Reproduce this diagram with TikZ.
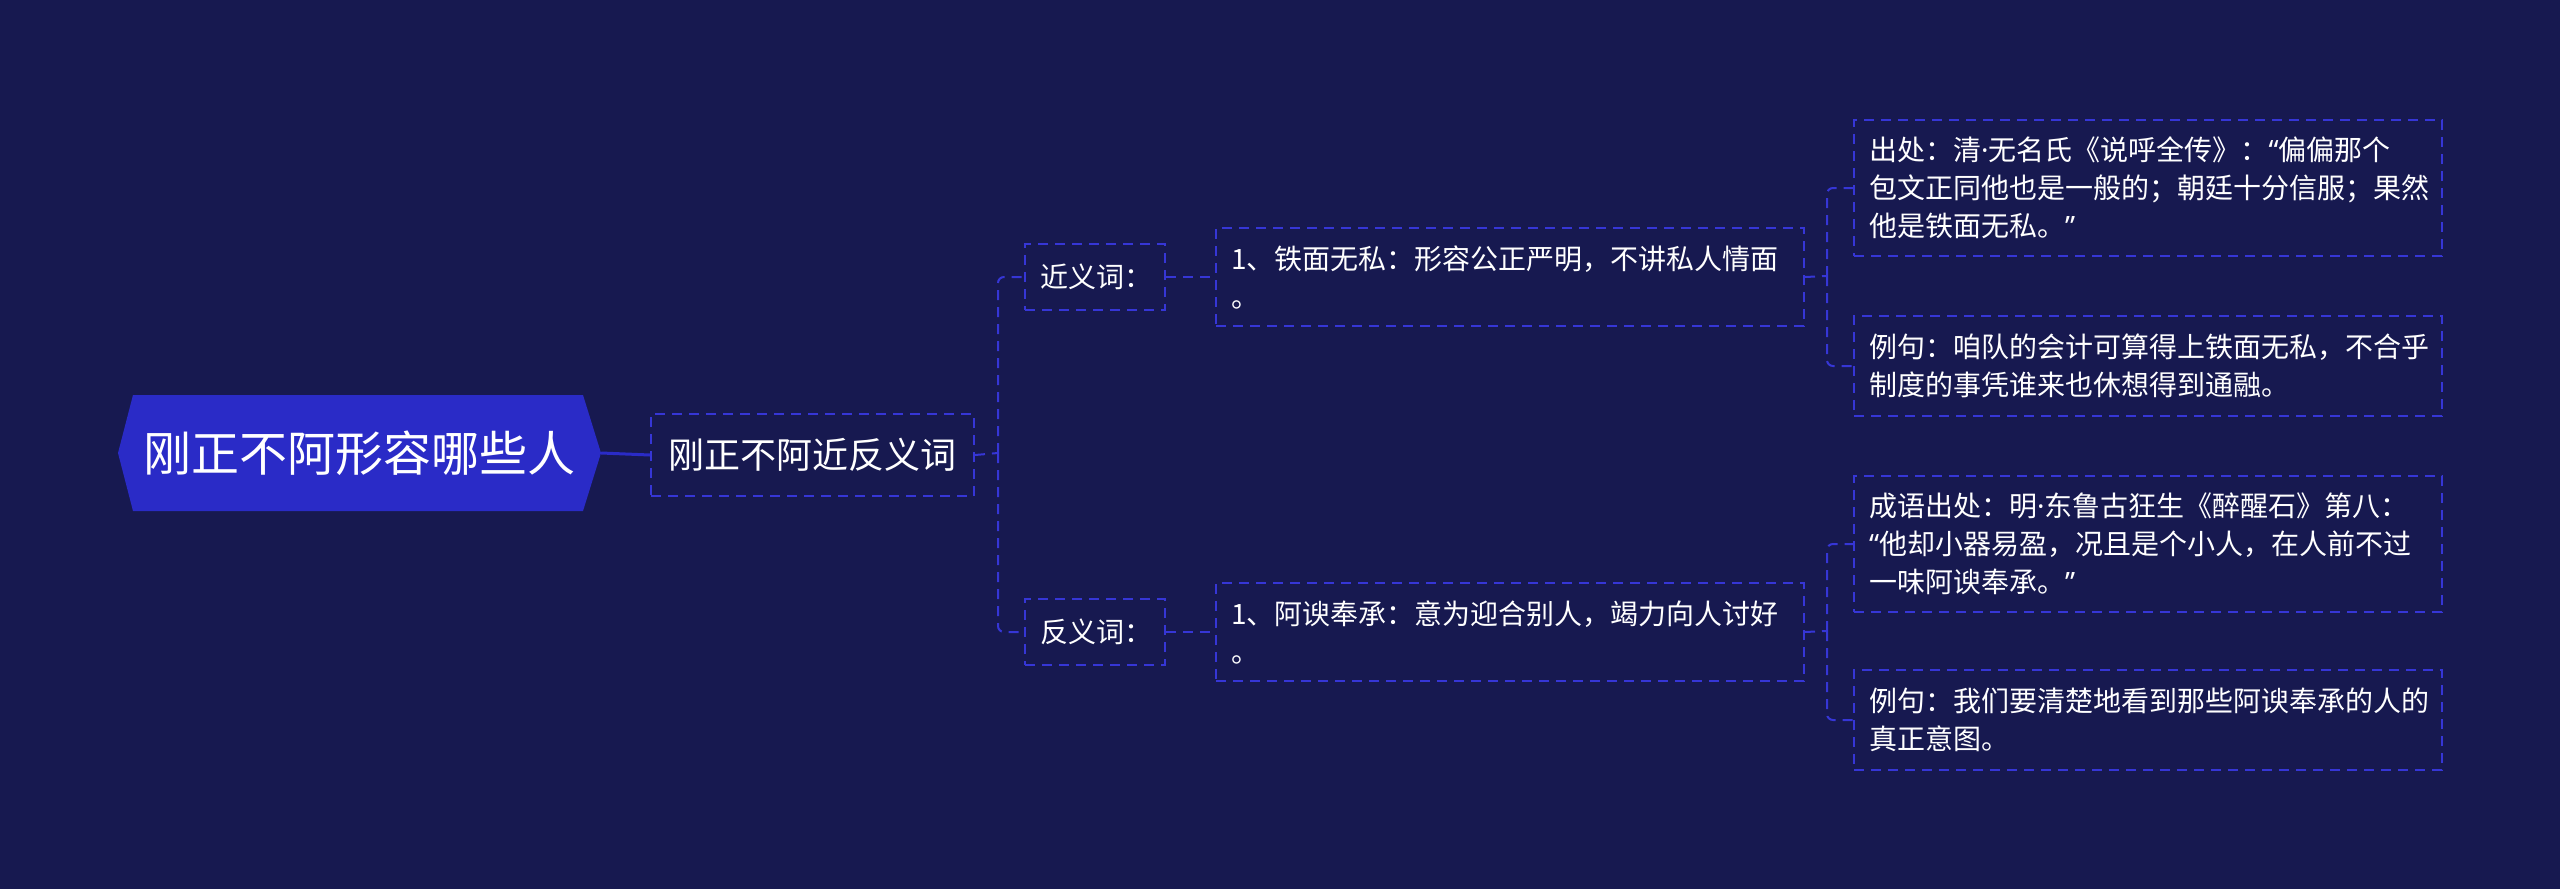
\documentclass[tikz,border=0pt]{standalone}
\usepackage{fontspec}
\newfontfamily\cjk{Noto Sans CJK SC}
\newfontfamily\lat{Noto Sans}
\newcommand{\myoq}{{\lat “}}
\newcommand{\mycq}{{\lat ”}}
\newcommand{\mymd}{{\lat ·}}
\definecolor{bg}{HTML}{171950}
\definecolor{rootfill}{HTML}{2A2BC7}
\definecolor{ln}{HTML}{3636D6}
\begin{document}
\begin{tikzpicture}[x=1pt,y=-1pt,
  dbox/.style={draw=ln, line width=2pt, dash pattern=on 10pt off 7pt, inner xsep=15pt, inner ysep=0pt,
    text=white, align=left, anchor=north west, font=\cjk\fontsize{28}{38}\selectfont},
  conn/.style={draw=ln, line width=2pt, dash pattern=on 10pt off 7pt, rounded corners=6pt}]
\useasboundingbox (0,0) rectangle (2560,889);
\fill[bg] (0,0) rectangle (2560,889);
% root
\fill[rootfill] (118,453) -- (133,395) -- (583,395) -- (601,453) -- (583,511) -- (133,511) -- cycle;
\node[text=white, font=\cjk\fontsize{48}{52}\selectfont, minimum width=483pt, minimum height=116pt, inner sep=0pt] (root) at (359.5,453) {刚正不阿形容哪些人};
% level 1
\node[dbox, align=center, text width=293pt, minimum height=82pt, font=\cjk\fontsize{36}{40}\selectfont] (b2) at (650,413) {刚正不阿近反义词};
% level 2
\node[dbox, text width=110pt, minimum height=66pt] (syn) at (1024,243) {近义词：};
\node[dbox, text width=110pt, minimum height=66pt] (ant) at (1024,598) {反义词：};
% level 3
\node[dbox, text width=558pt, minimum height=98pt] (s1) at (1215,227) {1、铁面无私：形容公正严明，不讲私人情面\\。};
\node[dbox, text width=558pt, minimum height=98pt] (a1) at (1215,582) {1、阿谀奉承：意为迎合别人，竭力向人讨好\\。};
% level 4
\node[dbox, text width=558pt, minimum height=136pt] (s1a) at (1853,119) {出处：清\mymd 无名氏《说呼全传》：\myoq 偏偏那个\\包文正同他也是一般的；朝廷十分信服；果然\\他是铁面无私。\mycq};
\node[dbox, text width=558pt, minimum height=100pt] (s1b) at (1853,315) {例句：咱队的会计可算得上铁面无私，不合乎\\制度的事凭谁来也休想得到通融。};
\node[dbox, text width=558pt, minimum height=136pt] (a1a) at (1853,475) {成语出处：明\mymd 东鲁古狂生《醉醒石》第八：\\\myoq 他却小器易盈，况且是个小人，在人前不过\\一味阿谀奉承。\mycq};
\node[dbox, text width=558pt, minimum height=100pt] (a1b) at (1853,669) {例句：我们要清楚地看到那些阿谀奉承的人的\\真正意图。};
% connectors
\draw[rootfill, line width=3pt] (root.east) -- (b2.west);
\coordinate (j1) at (998,453);
\draw[conn] (b2.east) -- (j1);
\draw[conn] (j1) |- (syn.west);
\draw[conn] (j1) |- (ant.west);
\draw[conn] (syn.east) -- (s1.west);
\draw[conn] (ant.east) -- (a1.west);
\coordinate (j2) at (1827,276);
\draw[conn] (s1.east) -- (j2);
\draw[conn] (j2) |- (s1a.west);
\draw[conn] (j2) |- (s1b.west);
\coordinate (j3) at (1827,631);
\draw[conn] (a1.east) -- (j3);
\draw[conn] (j3) |- (a1a.west);
\draw[conn] (j3) |- (a1b.west);
\end{tikzpicture}
\end{document}
